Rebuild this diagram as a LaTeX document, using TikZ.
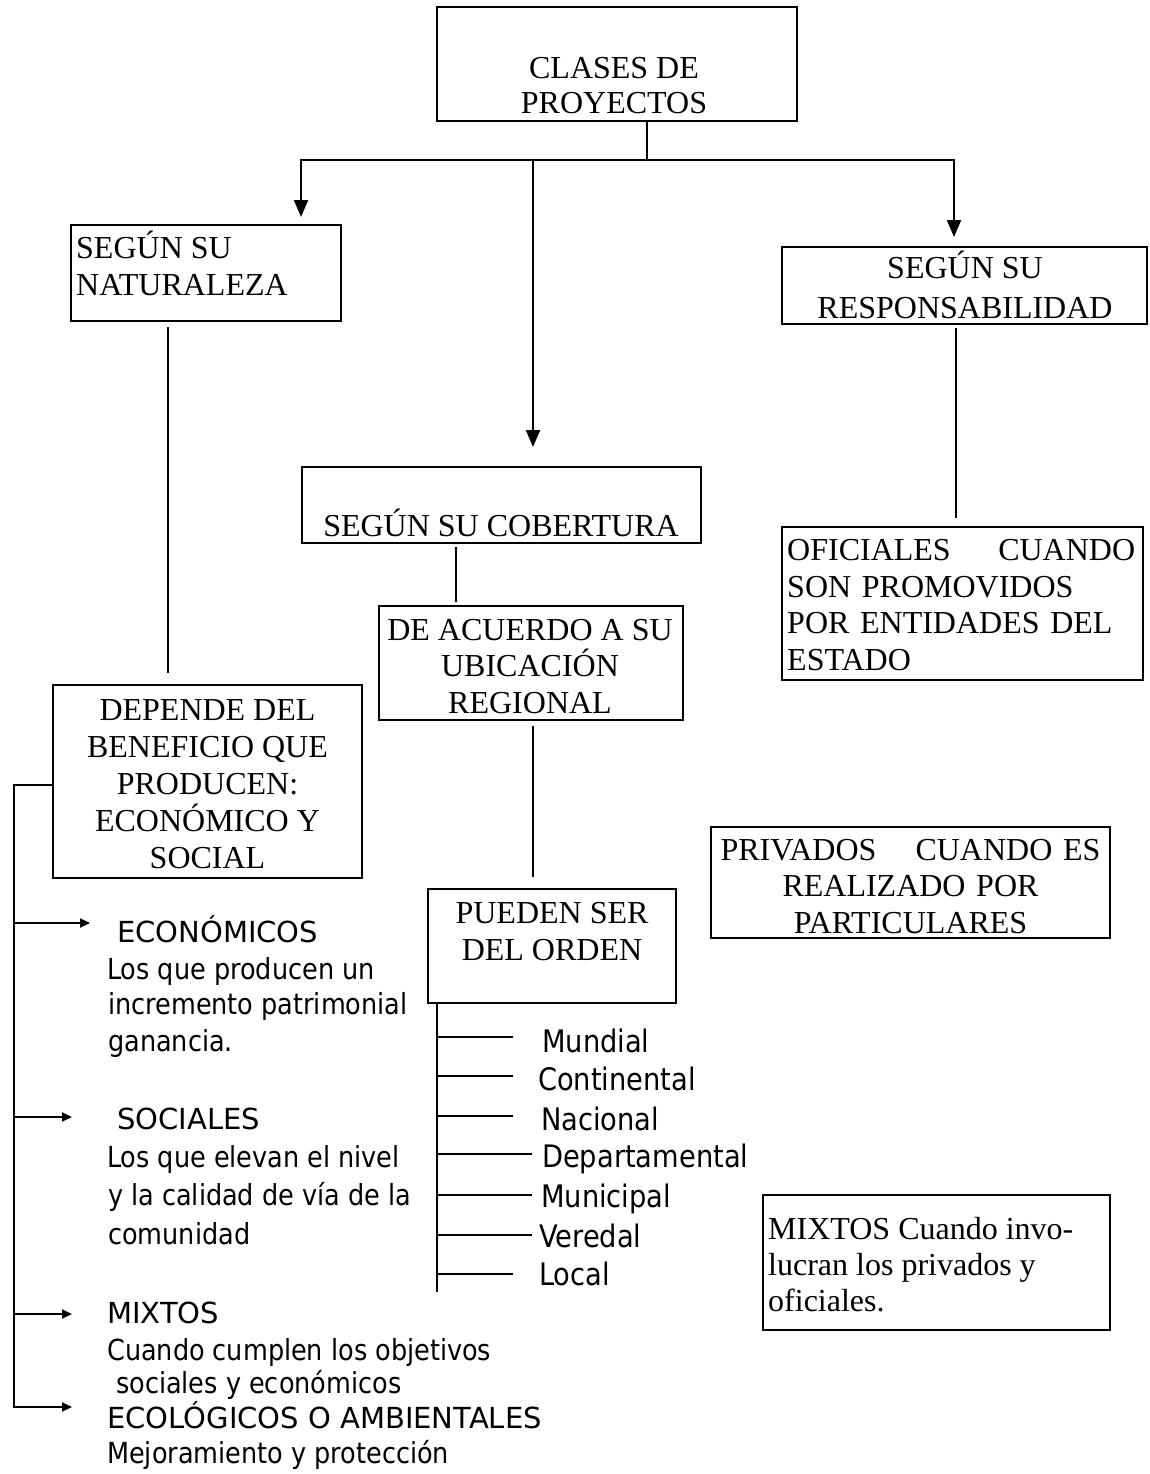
\documentclass[tikz,border=0pt]{standalone}
\usepackage{fontspec}
\setmainfont{Liberation Serif}
\newfontfamily\hdfont{DejaVu Sans}
\newfontfamily\dsfont[FakeStretch=0.88]{DejaVu Sans}
\usetikzlibrary{arrows.meta}
\begin{document}
\begin{tikzpicture}[x=1pt,y=-1pt,
  box/.style={draw, line width=2pt, inner sep=0pt, rectangle},
  ln/.style={line width=2pt},
  bigarrow/.style={ln, -{Triangle[width=14pt,length=17pt]}},
  smallarrow/.style={ln, -{Triangle[width=9pt,length=10pt]}},
  sertxt/.style={inner sep=0pt},
  hdtxt/.style={inner sep=0pt, anchor=base west, font=\hdfont\fontsize{29}{35}\selectfont},
  dstxt/.style={inner sep=0pt, anchor=base west, font=\dsfont\fontsize{29}{35}\selectfont},
  lsttxt/.style={inner sep=0pt, anchor=base west, font=\dsfont\fontsize{31}{35}\selectfont},
]
\fill[white] (0,0) rectangle (1150,1474);
\useasboundingbox (0,0) rectangle (1150,1474);

% boxes
\node[box, minimum width=360pt, minimum height=114pt] (top) at (617,64) {};
\node[box, minimum width=270pt, minimum height=96pt] (nat) at (206,273) {};
\node[box, minimum width=365pt, minimum height=77pt] (resp) at (964.5,285.5) {};
\node[box, minimum width=399pt, minimum height=76pt] (cob) at (501.5,505) {};
\node[box, minimum width=304pt, minimum height=114pt] (ubi) at (531,663) {};
\node[box, minimum width=248pt, minimum height=114pt] (pue) at (552,946) {};
\node[box, minimum width=309pt, minimum height=193pt] (dep) at (207.5,781.5) {};
\node[box, minimum width=361pt, minimum height=153pt] (ofi) at (962.5,603.5) {};
\node[box, minimum width=399pt, minimum height=111pt] (pri) at (910.5,882.5) {};
\node[box, minimum width=347pt, minimum height=135pt] (mix) at (936.5,1262.5) {};

% box texts
\node[sertxt, align=center, font=\fontsize{32}{35}\selectfont] (topT) at (614,85.5) {CLASES DE\\PROYECTOS};
\node[sertxt, anchor=west, align=left, font=\fontsize{32}{37}\selectfont] (natT) at (76,263.2) {SEGÚN SU\\NATURALEZA};
\node[sertxt, align=center, font=\fontsize{32}{40}\selectfont] (respT) at (965,284.7) {SEGÚN SU\\RESPONSABILIDAD};
\node[sertxt, font=\fontsize{32}{37}\selectfont] (cobT) at (501,522.7) {SEGÚN SU COBERTURA};
\node[sertxt, align=center, font=\fontsize{32}{36.5}\selectfont] (ubiT) at (530,666.5) {DE ACUERDO A SU\\UBICACIÓN\\REGIONAL};
\node[sertxt, align=center, font=\fontsize{32}{37}\selectfont] (pueT) at (552,931.5) {PUEDEN SER\\DEL ORDEN};
\node[sertxt, align=center, font=\fontsize{32}{37}\selectfont] (depT) at (207.5,784) {DEPENDE DEL\\BENEFICIO QUE\\PRODUCEN:\\ECONÓMICO Y\\SOCIAL};
\node[sertxt, anchor=west, text width=348pt, align=left, font=\fontsize{32}{36.7}\selectfont] (ofiT) at (787,605) {OFICIALES\hfill CUANDO\\SON PROMOVIDOS\\POR ENTIDADES DEL\\ESTADO};
\node[sertxt, text width=380pt, align=center, font=\fontsize{32}{36.5}\selectfont] (priT) at (910.5,886.5) {PRIVADOS\hfill CUANDO ES\\REALIZADO POR\\PARTICULARES};
\node[sertxt, anchor=west, align=left, font=\fontsize{32}{36}\selectfont] (mixT) at (768,1265) {MIXTOS Cuando invo-\\lucran los privados y\\oficiales.};

% left column texts
\node[hdtxt] (eco) at (117,942) {ECONÓMICOS};
\node[dstxt] (eco1) at (107,979) {Los que producen un};
\node[dstxt] (eco2) at (108,1014) {incremento patrimonial};
\node[dstxt] (eco3) at (108,1051) {ganancia.};
\node[hdtxt] (soc) at (117,1129) {SOCIALES};
\node[dstxt] (soc1) at (107,1167) {Los que elevan el nivel};
\node[dstxt] (soc2) at (108,1205) {y la calidad de vía de la};
\node[dstxt] (soc3) at (108,1244) {comunidad};
\node[hdtxt] (mxl) at (107,1323) {MIXTOS};
\node[dstxt] (mxl1) at (107,1360) {Cuando cumplen los objetivos};
\node[dstxt] (mxl2) at (116,1393) {sociales y económicos};
\node[hdtxt] (ecol) at (107,1428) {ECOLÓGICOS O AMBIENTALES};
\node[dstxt] (ecol1) at (107,1463) {Mejoramiento y protección};

% list texts
\node[lsttxt] (l1) at (542,1052) {Mundial};
\node[lsttxt] (l2) at (538,1090) {Continental};
\node[lsttxt] (l3) at (541,1130) {Nacional};
\node[lsttxt] (l4) at (542,1167) {Departamental};
\node[lsttxt] (l5) at (541,1207) {Municipal};
\node[lsttxt] (l6) at (539,1247) {Veredal};
\node[lsttxt] (l7) at (539,1285) {Local};

% top connectors
\coordinate (hS) at (647,160);
\coordinate (hL) at (301,160);
\coordinate (hM) at (533,160);
\coordinate (hR) at (954,160);
\coordinate (aL) at (301,217);
\coordinate (aM) at (533,447);
\coordinate (aR) at (954,237);
\draw[ln] (top.south -| hS) -- (hS);
\draw[ln, line cap=rect] (hL) -- (hR);
\draw[bigarrow] (hL) -- (aL);
\draw[bigarrow] (hM) -- (aM);
\draw[bigarrow] (hR) -- (aR);

% vertical links
\coordinate (n1) at (168,327);
\coordinate (n2) at (168,673);
\draw[ln] (n1) -- (n2);
\coordinate (c3) at (456,0);
\draw[ln] ([yshift=-3pt]cob.south -| c3) -- ([yshift=3pt]ubi.north -| c3);
\coordinate (u1) at (533,726);
\coordinate (u2) at (533,877);
\draw[ln] (u1) -- (u2);
\coordinate (r1) at (956,328);
\coordinate (r2) at (956,518);
\draw[ln] (r1) -- (r2);

% left bracket
\coordinate (b0) at (14,785);
\coordinate (b4) at (14,1407);
\draw[ln, line cap=rect] (b0 -| dep.west) -- (b0) -- (b4);
\coordinate (b1) at (14,923);   \coordinate (t1) at (90,923);
\coordinate (b2) at (14,1117);  \coordinate (t2) at (72,1117);
\coordinate (b3) at (14,1314);  \coordinate (t3) at (72,1314);
\coordinate (t4) at (72,1407);
\draw[smallarrow] (b1) -- (t1);
\draw[smallarrow] (b2) -- (t2);
\draw[smallarrow] (b3) -- (t3);
\draw[smallarrow] (b4) -- (t4);

% list branches
\coordinate (v0) at (437,1292);
\draw[ln] (pue.south -| v0) -- (v0);
\foreach \yy/\xx [count=\i] in {1037/513,1076/513,1116/513,1154/532,1195/532,1235/532,1274/513}{
  \coordinate (s\i) at (437,\yy);
  \coordinate (e\i) at (\xx,\yy);
  \draw[ln] (s\i) -- (e\i);
}
\end{tikzpicture}
\end{document}
